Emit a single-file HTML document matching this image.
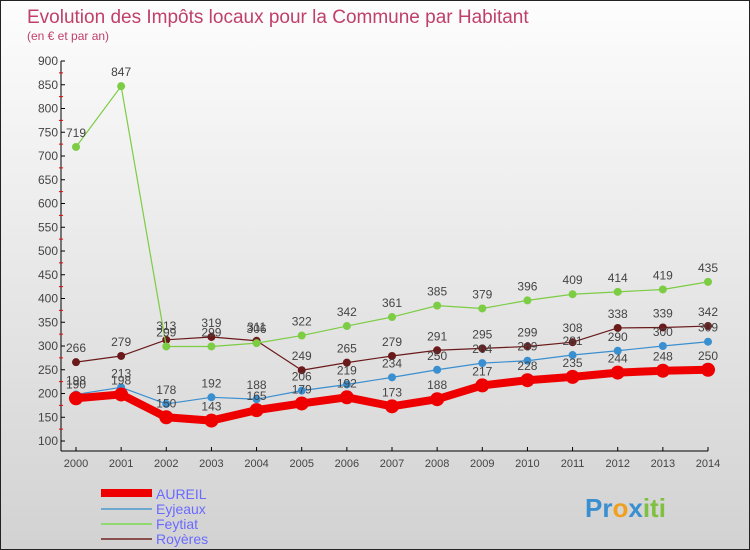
<!DOCTYPE html>
<html><head><meta charset="utf-8"><style>
body{margin:0;width:750px;height:550px;overflow:hidden;font-family:"Liberation Sans",sans-serif}
#wrap{position:relative;width:748px;height:548px;border:1px solid #222;background:linear-gradient(#fdfdfd,#d2d2d2)}
</style></head><body>
<div id="wrap">
<svg id="chart" width="748" height="548" style="position:absolute;left:0;top:0">
<text x="26" y="22" font-size="19" fill="#c0406a">Evolution des Impôts locaux pour la Commune par Habitant</text>
<text x="26" y="39" font-size="12" fill="#c0406a">(en € et par an)</text>
<g id="axes"></g><g id="series"></g>
<g font-size="14" fill="#6a6aff">
<rect x="100" y="488" width="51" height="8" fill="#e00"/>
<text x="155" y="498">AUREIL</text>
<rect x="100" y="507" width="51" height="2" fill="#6fa8cf"/>
<text x="155" y="513">Eyjeaux</text>
<rect x="100" y="522" width="51" height="2" fill="#90d870"/>
<text x="155" y="528">Feytiat</text>
<rect x="100" y="537" width="51" height="2" fill="#8a5050"/>
<text x="155" y="543">Royères</text>
</g>
<text x="584" y="516" font-size="26" font-weight="bold"><tspan fill="#3a8fd0">Pr</tspan><tspan fill="#f0a020">o</tspan><tspan fill="#3a8fd0">x</tspan><tspan fill="#80c040">iti</tspan></text>
</svg>
</div>
<script>
const years=[2000,2001,2002,2003,2004,2005,2006,2007,2008,2009,2010,2011,2012,2013,2014];
const aureil=[190,198,150,143,165,179,192,173,188,217,228,235,244,248,250];
const eyjeaux=[198,213,178,192,188,206,219,234,250,264,269,281,290,300,309];
const feytiat=[719,847,299,299,306,322,342,361,385,379,396,409,414,419,435];
const royeres=[266,279,313,319,311,249,265,279,291,295,299,308,338,339,342];
const yTicks=[100,150,200,250,300,350,400,450,500,550,600,650,700,750,800,850,900];
const NS="http://www.w3.org/2000/svg";
function x(i){return 75+i*(707-75)/(years.length-1);}
function y(v){return 440-(v-100)*0.475;}
function mk(p,t,a){const e=document.createElementNS(NS,t);for(const k in a)e.setAttribute(k,a[k]);p.appendChild(e);return e;}
const ax=document.getElementById('axes');
let e=mk(ax,'line',{x1:60,y1:60,x2:60,y2:450,stroke:'#000'});


e=mk(ax,'line',{x1:60,y1:450,x2:707,y2:450,stroke:'#000'});


yTicks.forEach(v=>{
 mk(ax,'line',{x1:60,y1:y(v),x2:64,y2:y(v),stroke:'#000'});
 if(v<900)mk(ax,'line',{x1:58,y1:y(v+25),x2:62,y2:y(v+25),stroke:'#e00'});
 const t=mk(ax,'text',{x:57,y:y(v)+4,'font-size':12,fill:'#444','text-anchor':'end'});t.textContent=v;
 
 
});
years.forEach((yr,i)=>{
 mk(ax,'line',{x1:x(i),y1:446,x2:x(i),y2:450,stroke:'#000'});
 const t=mk(ax,'text',{x:x(i),y:466,'font-size':11,fill:'#444','text-anchor':'middle'});t.textContent=yr;
 
 
});
const sg=document.getElementById('series');
function draw(name,data,color,w,r){
 const g=mk(sg,'g',{});
 
 
 const l=mk(g,'polyline',{points:data.map((v,i)=>x(i)+','+y(v)).join(' '),fill:'none',stroke:color,'stroke-width':w,'stroke-linejoin':'round'});
 
 
 data.forEach((v,i)=>{
  const c=mk(g,'circle',{cx:x(i),cy:y(v),r:r,fill:color});
  
  
  const t=mk(g,'text',{x:x(i),y:y(v)-10,'font-size':12,fill:'#444','text-anchor':'middle'});t.textContent=v;
  
  
 });
}
draw('royeres',royeres,'#6a1a1a',1.2,4);
draw('feytiat',feytiat,'#7ccc44',1.2,4);
draw('eyjeaux',eyjeaux,'#3a8fd0',1.2,4);
draw('aureil',aureil,'#ee0000',8,7);
</script>
</body></html>
